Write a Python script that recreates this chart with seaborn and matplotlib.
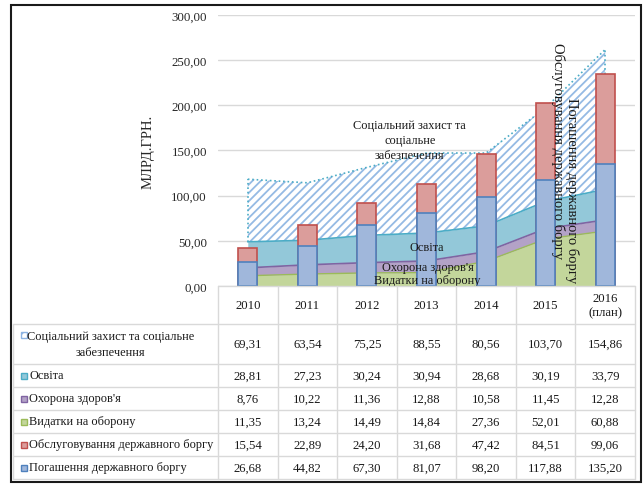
import numpy as np
import pandas as pd
import seaborn as sns
import matplotlib.pyplot as plt
from matplotlib.patches import Rectangle
from matplotlib.ticker import FuncFormatter

years = ["2010", "2011", "2012", "2013", "2014", "2015", "2016"]
year_labels = ["2010", "2011", "2012", "2013", "2014", "2015", "2016\n(план)"]
social = [69.31, 63.54, 75.25, 88.55, 80.56, 103.70, 154.86]
education = [28.81, 27.23, 30.24, 30.94, 28.68, 30.19, 33.79]
health = [8.76, 10.22, 11.36, 12.88, 10.58, 11.45, 12.28]
defense = [11.35, 13.24, 14.49, 14.84, 27.36, 52.01, 60.88]
debt_service = [15.54, 22.89, 24.20, 31.68, 47.42, 84.51, 99.06]
debt_repay = [26.68, 44.82, 67.30, 81.07, 98.20, 117.88, 135.20]

row_names = ["Соціальний захист та соціальне\nзабезпечення", "Освіта", "Охорона здоров'я",
             "Видатки на оборону", "Обслуговування державного боргу", "Погашення державного боргу"]

sns.set_theme(style="white")
plt.rcParams['font.family'] = ['Liberation Serif', 'DejaVu Serif']
plt.rcParams['hatch.linewidth'] = 1.3

W, H = 643, 485
fig = plt.figure(figsize=(W / 100, H / 100), dpi=100)
fig.patch.set_facecolor('white')

# chart area
ax = fig.add_axes([218 / W, (H - 287) / H, (635 - 218) / W, (287 - 16) / H])
df = pd.DataFrame({"year": years, "repay": debt_repay, "service": debt_service})
df["total"] = df["repay"] + df["service"]

x = np.arange(len(years))
c1 = np.array(defense)
c2 = c1 + np.array(health)
c3 = c2 + np.array(education)
c4 = c3 + np.array(social)

ax.fill_between(x, 0, c1, facecolor='#C3D69B', linewidth=0, zorder=1)
ax.fill_between(x, c1, c2, facecolor='#B3A2C7', linewidth=0, zorder=1)
ax.fill_between(x, c2, c3, facecolor='#93C8D9', linewidth=0, zorder=1)
ax.fill_between(x, c3, c4, facecolor='white', edgecolor='#95BAE4', hatch='////', linewidth=0, zorder=1)
ax.plot(x, c1, color='#9BBB59', lw=1, zorder=1.5)
ax.plot(x, c2, color='#8064A2', lw=1.2, zorder=1.5)
ax.plot(x, c3, color='#4BACC6', lw=1.2, zorder=1.5)
ax.plot(x, c4, color='#4BACC6', lw=1.2, ls=':', zorder=1.5)
ax.plot([x[0], x[0]], [c3[0], c4[0]], color='#4BACC6', lw=1.2, ls=':', zorder=1.5)
ax.plot([x[-1], x[-1]], [c3[-1], c4[-1]], color='#4BACC6', lw=1.2, ls=':', zorder=1.5)

sns.barplot(data=df, x="year", y="total", color='#DB9D9B', edgecolor='#C0504D', linewidth=1.2,
            width=0.32, saturation=1, errorbar=None, ax=ax, zorder=3)
sns.barplot(data=df, x="year", y="repay", color='#A0B7DB', edgecolor='#4F81BD', linewidth=1.2,
            width=0.32, saturation=1, errorbar=None, ax=ax, zorder=3)

ax.set_xlim(-0.5, 6.5)
ax.set_ylim(0, 300)
ax.set_yticks(np.arange(0, 301, 50))
ax.yaxis.set_major_formatter(FuncFormatter(lambda v, p: f"{v:.2f}".replace(".", ",")))
ax.tick_params(axis='y', length=0, pad=8, labelsize=9.3, labelcolor='#262626')
ax.set_xticks([])
ax.set_xlabel("")
ax.set_ylabel("")
ax.grid(axis='y', color='#D9D9D9', lw=1)
ax.set_axisbelow(True)
for s in ax.spines.values():
    s.set_visible(False)

txt = dict(color='#1a1a1a', zorder=5)
ax.text(2.72, 161.5, "Соціальний захист та\nсоціальне\nзабезпечення", ha='center', va='center',
        linespacing=1.3, fontsize=8.9, **txt)
ax.text(3.01, 43.2, "Освіта", ha='center', va='center', fontsize=8.9, **txt)
ax.text(3.03, 21, "Охорона здоров'я", ha='center', va='center', fontsize=8.9, **txt)
ax.text(3.01, 6.6, "Видатки на оборону", ha='center', va='center', fontsize=8.9, **txt)
ax.text(5.2, 150.5, "Обслуговування державного боргу", ha='center', va='center', rotation=-90,
        fontsize=10.5, **txt)
ax.text(5.44, 107, "Погашення державного боргу", ha='center', va='center', rotation=-90,
        fontsize=10.5, **txt)

# overlay in pixel coordinates: y-label, table, frame
ov = fig.add_axes([0, 0, 1, 1])
ov.set_xlim(0, W)
ov.set_ylim(H, 0)
ov.axis('off')
ov.patch.set_alpha(0)

ov.text(148, 152, "МЛРД.ГРН.", rotation=90, ha='center', va='center', fontsize=10.5, color='#262626')

grid_c = '#D9D9D9'
col_x0, col_w = 218, (635 - 218) / 7
row_edges = [287, 325, 365, 388, 411, 434, 457, 480]
for yy in row_edges[1:]:
    ov.plot([13, 635], [yy, yy], color=grid_c, lw=1)
ov.plot([col_x0, 635], [287, 287], color=grid_c, lw=1)
for k in range(8):
    xx = col_x0 + k * col_w
    ov.plot([xx, xx], [287, 480], color=grid_c, lw=1)
ov.plot([13, 13], [325, 480], color=grid_c, lw=1)

for k, lab in enumerate(year_labels):
    ov.text(col_x0 + (k + 0.5) * col_w, 306, lab, ha='center', va='center', fontsize=9.2,
            color='#1a1a1a', linespacing=1.25)

series = [social, education, health, defense, debt_service, debt_repay]
icon_face = ['white', '#93C8D9', '#B3A2C7', '#C3D69B', '#DB9D9B', '#A0B7DB']
icon_edge = ['#8DB3E2', '#4BACC6', '#8064A2', '#9BBB59', '#C0504D', '#4F81BD']
for r, (name, vals) in enumerate(zip(row_names, series)):
    yc = (row_edges[r + 1] + row_edges[r + 2]) / 2
    for k, v in enumerate(vals):
        ov.text(col_x0 + (k + 0.5) * col_w, yc, f"{v:.2f}".replace(".", ","), ha='center',
                va='center', fontsize=9.2, color='#1a1a1a')
    iy = yc - 9 if r == 0 else yc
    ov.add_patch(Rectangle((21, iy - 3), 6, 6, facecolor=icon_face[r], edgecolor=icon_edge[r],
                           lw=1, hatch='///' if r == 0 else None))
    if r == 0:
        ov.text(111, yc, name, ha='center', va='center', fontsize=8.9, color='#1a1a1a',
                linespacing=1.45)
    else:
        ov.text(29, yc, name, ha='left', va='center', fontsize=8.9, color='#1a1a1a')

ov.add_patch(Rectangle((11, 6), 630, 477, fill=False, edgecolor='#1a1a1a', lw=1.5))

fig.savefig("out.png", dpi=100)
